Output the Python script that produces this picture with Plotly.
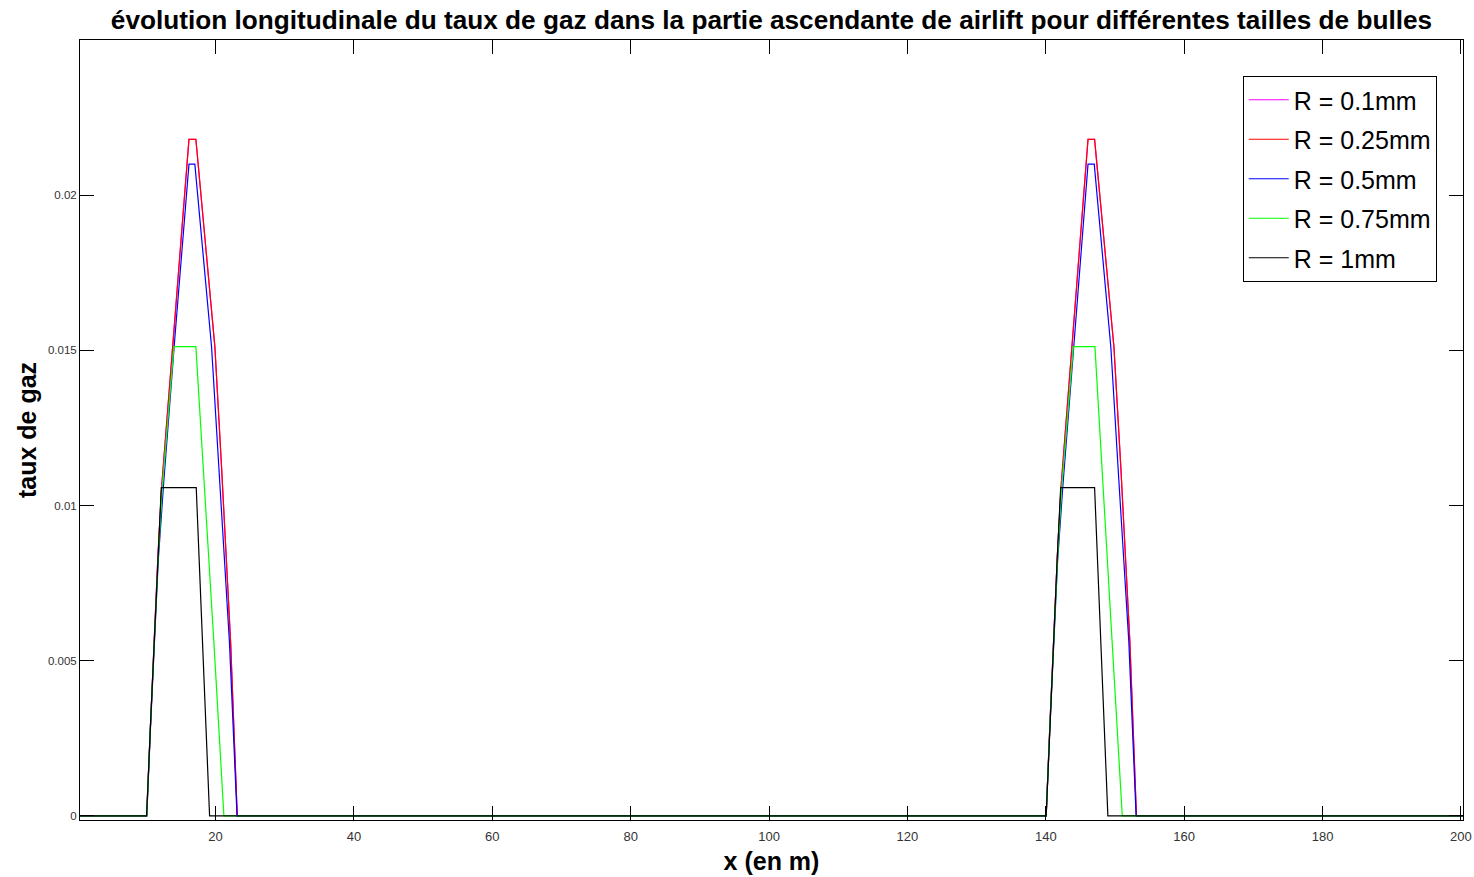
import plotly.graph_objects as go

# Vertex data (x in m, y = gas fraction)
x_r01 = [0.4, 10.03, 10.6, 11.1, 11.65, 12.2, 13.75, 16.15, 17.15, 19.9, 20.87, 22.17, 23.13,
         140.05, 140.6, 141.1, 141.65, 142.2, 143.75, 146.1, 147.05, 149.85, 150.85, 152.15, 153.1, 200.3]
y_r01 = [0, 0, 0.0030, 0.0056, 0.0083, 0.0106, 0.0151, 0.0218, 0.0218, 0.0151, 0.0112, 0.0056, 0,
         0, 0.0030, 0.0056, 0.0083, 0.0106, 0.0151, 0.0218, 0.0218, 0.0151, 0.0112, 0.0056, 0, 0]

x_r025 = [0.4, 10.03, 10.6, 11.1, 11.65, 12.2, 13.75, 16.15, 17.15, 19.9, 20.87, 22.17, 23.13,
          140.05, 140.6, 141.1, 141.65, 142.2, 143.75, 146.1, 147.05, 149.85, 150.85, 152.15, 153.1, 200.3]
y_r025 = [0, 0, 0.0030, 0.0056, 0.0083, 0.0106, 0.0151, 0.0218, 0.0218, 0.0151, 0.0112, 0.0056, 0,
          0, 0.0030, 0.0056, 0.0083, 0.0106, 0.0151, 0.0218, 0.0218, 0.0151, 0.0112, 0.0056, 0, 0]

x_r05 = [0.4, 10.05, 10.6, 11.1, 11.7, 12.45, 14.0, 16.15, 17.0, 19.42, 20.48, 22.0, 23.1,
         140.05, 140.6, 141.1, 141.7, 142.45, 144.0, 146.1, 147.0, 149.4, 150.45, 152.0, 153.05, 200.3]
y_r05 = [0, 0, 0.0029, 0.0055, 0.0082, 0.0106, 0.0151, 0.0210, 0.0210, 0.0151, 0.0112, 0.0056, 0,
         0, 0.0029, 0.0055, 0.0082, 0.0106, 0.0151, 0.0210, 0.0210, 0.0151, 0.0112, 0.0056, 0, 0]

x_r075 = [0.4, 10.05, 10.6, 11.1, 11.7, 12.3, 13.98, 17.15, 18.3, 19.75, 21.2,
          140.05, 140.6, 141.1, 141.7, 142.3, 143.98, 147.1, 148.2, 149.65, 151.05, 200.3]
y_r075 = [0, 0, 0.0030, 0.0056, 0.0083, 0.0106, 0.01512, 0.01512, 0.0110, 0.0056, 0,
          0, 0.0030, 0.0056, 0.0083, 0.0106, 0.01512, 0.01512, 0.0110, 0.0056, 0, 0]

x_r1 = [0.4, 10.03, 10.6, 11.1, 11.65, 12.15, 17.2, 18.08, 19.13,
        140.05, 140.6, 141.1, 141.65, 142.15, 147.05, 147.95, 148.97, 200.3]
y_r1 = [0, 0, 0.0030, 0.0056, 0.0083, 0.01058, 0.01058, 0.0056, 0,
        0, 0.0030, 0.0056, 0.0083, 0.01058, 0.01058, 0.0056, 0, 0]

series_names = ["R = 0.1mm", "R = 0.25mm", "R = 0.5mm", "R = 0.75mm", "R = 1mm"]
series_colors = ["#ff00ff", "#ff0000", "#0000ff", "#00ff00", "#000000"]
series_x = [x_r01, x_r025, x_r05, x_r075, x_r1]
series_y = [y_r01, y_r025, y_r05, y_r075, y_r1]

x_ticks = [20, 40, 60, 80, 100, 120, 140, 160, 180, 200]
y_ticks = [0, 0.005, 0.01, 0.015, 0.02]
y_tick_labels = ["0", "0.005", "0.01", "0.015", "0.02"]

fig = go.Figure()
for name, col, xs, ys in zip(series_names, series_colors, series_x, series_y):
    fig.add_trace(go.Scatter(x=xs, y=ys, mode="lines", name=name, legendgroup=name,
                             line=dict(color=col, width=1.2)))

FONT = "Liberation Sans, Arial, Helvetica, sans-serif"
fig.update_layout(
    width=1474, height=877,
    margin=dict(l=80, r=11, t=40, b=57, autoexpand=False),
    paper_bgcolor="white", plot_bgcolor="white",
    font=dict(family=FONT, color="black"),
    title=dict(text="<b>évolution longitudinale du taux de gaz dans la partie ascendante de airlift pour différentes tailles de bulles</b>",
               x=0.5, xref="paper", xanchor="center", y=1 - 20 / 877, yref="container", yanchor="middle",
               font=dict(size=26.2, family=FONT, color="black")),
    showlegend=True,
    legend=dict(x=0.981, y=(820 - 76) / 780, xanchor="right", yanchor="top",
                bgcolor="white", bordercolor="black", borderwidth=1,
                font=dict(size=25, family=FONT, color="black"),
                tracegroupgap=4, itemwidth=40),
)
fig.update_xaxes(range=[0.4, 200.3], tickvals=x_ticks, ticks="inside", ticklen=14,
                 tickcolor="black", showline=True, linecolor="black", linewidth=1, mirror="ticks",
                 showgrid=False, zeroline=False, tickfont=dict(size=13, color="#333"),
                 automargin=False, ticklabelstandoff=4,
                 title=dict(text="<b>x (en m)</b>", font=dict(size=25), standoff=9))
fig.update_yaxes(range=[-0.00013, 0.025], tickvals=y_ticks, ticktext=y_tick_labels,
                 ticks="inside", ticklen=14, tickcolor="black", showline=True, linecolor="black",
                 linewidth=1, mirror="ticks", showgrid=False, zeroline=False,
                 tickfont=dict(size=11.5, color="#333"), automargin=False,
                 title=dict(text="<b>taux de gaz</b>", font=dict(size=25), standoff=4))

fig.write_html("out.html", config={"displayModeBar": False},
               post_script="document.body.style.margin='0';document.body.style.overflow='hidden';")
